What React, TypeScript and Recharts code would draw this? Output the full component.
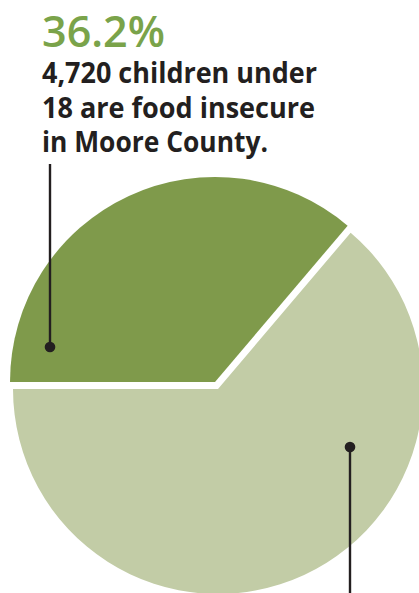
import React from "react";
import { PieChart, Pie, Cell } from "recharts";

const categories = ["Food insecure children", "Other children"];
const shares = [36.2, 63.8];
const headline = "36.2%";
const captionLines = ["4,720 children under", "18 are food insecure", "in Moore County."];

const data = categories.map((name, i) => ({ name, value: shares[i] }));

const DARK = "#7f9a4b";
const LIGHT = "#c2cca6";
const TITLE = "#7aa34a";
const INK = "#231f20";

export default function App() {
  return (
    <div style={{ position: "absolute", left: 0, top: 0, width: 419, height: 593, background: "#fff", overflow: "hidden" }}>
      <PieChart width={419} height={593} margin={{ top: 0, right: 0, bottom: 0, left: 0 }}>
        <Pie
          data={data}
          dataKey="value"
          nameKey="name"
          cx={215}
          cy={382}
          outerRadius={205}
          startAngle={180}
          endAngle={-180}
          stroke="none"
          isAnimationActive={false}
        >
          {data.map((d, i) => (
            <Cell key={d.name} fill={i === 0 ? DARK : "none"} />
          ))}
        </Pie>
        <Pie
          data={data}
          dataKey="value"
          nameKey="name"
          cx={218}
          cy={389}
          outerRadius={205}
          startAngle={180}
          endAngle={-180}
          stroke="none"
          isAnimationActive={false}
        >
          {data.map((d, i) => (
            <Cell key={d.name} fill={i === 1 ? LIGHT : "none"} />
          ))}
        </Pie>
      </PieChart>
      <svg width={419} height={593} style={{ position: "absolute", left: 0, top: 0, pointerEvents: "none" }}>
        <text x={42} y={47} fill={TITLE} fontFamily="'Open Sans', sans-serif" fontWeight={600} fontSize={44} textLength={123} lengthAdjust="spacingAndGlyphs">
          {headline}
        </text>
        {captionLines.map((line, i) => (
          <text
            key={line}
            x={42}
            y={83 + i * 34.5}
            fill={INK}
            fontFamily="'Open Sans', sans-serif"
            fontWeight={700}
            fontSize={28}
            textLength={[275, 273, 226][i]}
            lengthAdjust="spacingAndGlyphs"
          >
            {line}
          </text>
        ))}
        <line x1={50} y1={164} x2={50} y2={347} stroke={INK} strokeWidth={2.4} />
        <circle cx={50} cy={347} r={5.3} fill={INK} />
        <line x1={350} y1={447} x2={350} y2={593} stroke={INK} strokeWidth={2.4} />
        <circle cx={350} cy={447} r={5.3} fill={INK} />
      </svg>
    </div>
  );
}
